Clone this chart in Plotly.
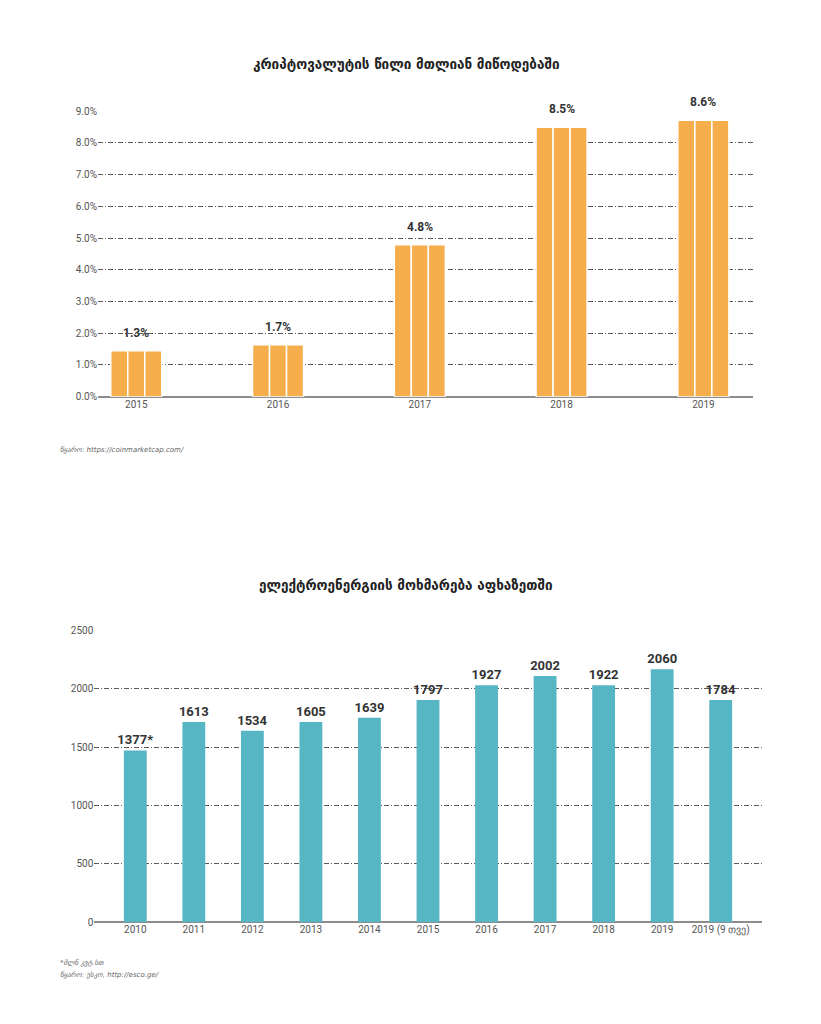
import plotly.graph_objects as go

# ---- Chart 1 data ----
years1 = ["2015", "2016", "2017", "2018", "2019"]
share_bar = [1.45, 1.64, 4.79, 8.49, 8.71]
share_labels = ["1.3%", "1.7%", "4.8%", "8.5%", "8.6%"]
y1_ticks = [0, 1, 2, 3, 4, 5, 6, 7, 8, 9]
y1_ticktext = ["0.0%", "1.0%", "2.0%", "3.0%", "4.0%", "5.0%", "6.0%", "7.0%", "8.0%", "9.0%"]

# ---- Chart 2 data ----
years2 = ["2010", "2011", "2012", "2013", "2014", "2015", "2016", "2017", "2018", "2019", "2019 (9 თვე)"]
energy_bar = [1471, 1714, 1639, 1714, 1751, 1902, 2028, 2108, 2028, 2165, 1902]
energy_labels = ["1377*", "1613", "1534", "1605", "1639", "1797", "1927", "2002", "1922", "2060", "1784"]
y2_ticks = [0, 500, 1000, 1500, 2000, 2500]

title1 = "კრიპტოვალუტის წილი მთლიან მიწოდებაში"
title2 = "ელექტროენერგიის მოხმარება აფხაზეთში"
source1 = "წყარო: https://coinmarketcap.com/"
note2 = "*მლნ კვტ.სთ"
source2 = "წყარო: ესკო, http://esco.ge/"

ORANGE = "#F6AD4B"
TEAL = "#56B6C4"
NUMFONT = "Roboto"
GEOFONT = "DejaVu Sans"

W, H = 821, 1024
def px(X):
    return X / W
def py(Y):
    # compensate for the observed vertical scaling of the rendered page
    Yc = (Y - 5.71) / 0.9873
    return 1 - Yc / H

fig = go.Figure()

for k in range(3):
    fig.add_trace(go.Bar(
        x=years1, y=share_bar, xaxis="x", yaxis="y",
        marker=dict(color=ORANGE, line=dict(color="white", width=1.5)),
        showlegend=False, hoverinfo="x+y",
    ))

# value labels for chart 1, anchored on the bar tops through the data axes
for i, (v, lab) in enumerate(zip(share_bar, share_labels)):
    fig.add_annotation(x=i, y=v, xref="x", yref="y", text="<b>" + lab + "</b>",
                       showarrow=False, yanchor="bottom", yshift=9,
                       font=dict(family=NUMFONT, size=12, color="#333333"))

fig.add_trace(go.Bar(
    x=years2, y=energy_bar, xaxis="x2", yaxis="y2", width=0.39,
    marker=dict(color=TEAL, line=dict(width=0)),
    text=energy_labels, textposition="outside",
    textfont=dict(family=NUMFONT, size=13, color="#333333", weight="bold"),
    constraintext="none", cliponaxis=False, showlegend=False,
))

grid = dict(showgrid=True, gridcolor="#5a5a5a", gridwidth=0.8, griddash="5px,2px,1px,2px")
tickf = dict(family=NUMFONT, size=10, color="#555555")

fig.update_layout(
    width=W, height=H,
    margin=dict(l=0, r=0, t=0, b=0),
    paper_bgcolor="white", plot_bgcolor="white",
    barmode="group", bargap=0.64, bargroupgap=0,
    xaxis=dict(domain=[px(98), px(753)], anchor="y", type="category",
               range=[-0.27, 4.35], showgrid=False, ticks="", tickfont=tickf,
               showline=False),
    yaxis=dict(domain=[py(396), py(110.7)], anchor="x", range=[0, 9],
               tickvals=y1_ticks, ticktext=y1_ticktext, tickfont=tickf,
               zeroline=True, zerolinecolor="#8c8c8c", zerolinewidth=2,
               ticks="", **grid),
    xaxis2=dict(domain=[px(94.3), px(761.7)], anchor="y2", type="category",
                range=[-0.70, 10.70], showgrid=False, ticks="", tickfont=tickf,
                showline=False),
    yaxis2=dict(domain=[py(921), py(629.3)], anchor="x2", range=[0, 2500],
                tickvals=y2_ticks, tickfont=tickf,
                zeroline=True, zerolinecolor="#8c8c8c", zerolinewidth=2,
                ticks="", **grid),
)

def ann(text, x, y, size, color, xanchor="center", family=GEOFONT):
    fig.add_annotation(text=text, x=x, y=y, xref="paper", yref="paper",
                       xanchor=xanchor, yanchor="middle", showarrow=False,
                       font=dict(family=family, size=size, color=color))

ann("<b>" + title1 + "</b>", px(406), py(64), 13.5, "#222222")
ann("<b>" + title2 + "</b>", px(406), py(584), 13.5, "#222222")
ann("<i>" + source1 + "</i>", px(58), py(449), 7, "#666666", xanchor="left")
ann("<i>" + note2 + "</i>", px(58), py(962), 7, "#666666", xanchor="left")
ann("<i>" + source2 + "</i>", px(58), py(974), 7, "#666666", xanchor="left")

fig.write_html(
    "out.html",
    config={"displayModeBar": False},
    post_script="document.body.style.margin='0';document.body.style.overflow='hidden';",
)
